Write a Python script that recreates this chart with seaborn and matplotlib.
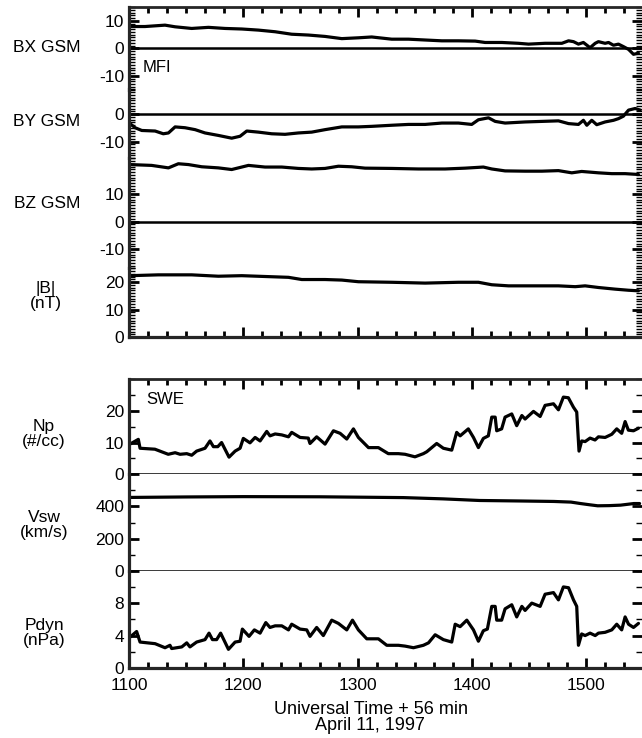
import numpy as np
import pandas as pd
import matplotlib
matplotlib.use("Agg")
import matplotlib.pyplot as plt
import seaborn as sns
from matplotlib.ticker import MultipleLocator, FixedLocator, FuncFormatter

# ---------------- data (time in minutes after 11:00 UT) ----------------
bx_t = [0.5, 8.4, 18.9, 24.2, 32.9, 41.7, 50.4, 59.2, 67.9, 76.7,
        85.4, 94.2, 102.9, 111.7, 120.4, 127.4, 137.9, 146.7, 155.4, 164.2,
        172.9, 181.7, 186.9, 195.7, 204.4, 209.7, 218.4, 227.2, 230.7, 233.3,
        235.9, 238.5, 242.0, 244.7, 246.4, 249.9, 251.7, 254.3, 256.9, 259.5,
        262.2, 264.8, 267.4]
bx_v = [7.9, 7.9, 8.4, 7.8, 7.2, 7.6, 7.2, 7.0, 6.6, 6.0,
        5.1, 4.8, 4.3, 3.5, 3.8, 4.1, 3.3, 3.3, 3.0, 2.7,
        2.7, 2.6, 2.1, 2.1, 1.8, 1.5, 1.8, 1.8, 2.7, 2.4,
        1.5, 2.1, 0.2, 1.8, 2.4, 1.8, 2.1, 1.1, 1.5, 0.6,
        -0.4, -2.2, -1.8]

by_t = [0.5, 3.2, 6.7, 13.7, 18.0, 20.7, 24.2, 29.4, 34.7, 39.9,
        46.9, 53.9, 58.3, 61.8, 67.9, 74.9, 81.9, 88.9, 95.9, 102.9,
        111.7, 120.4, 127.4, 137.9, 146.7, 155.4, 164.2, 172.9, 179.9, 183.4,
        188.7, 192.2, 197.4, 207.9, 216.7, 225.4, 230.7, 235.9, 238.5, 240.3,
        242.9, 245.5, 249.9, 254.3, 256.9, 259.5, 262.2, 265.7, 268.3]
by_v = [-3.4, -4.9, -5.9, -6.1, -7.1, -6.8, -4.6, -4.9, -5.6, -6.8,
        -7.7, -8.7, -8.0, -6.1, -6.5, -7.1, -7.3, -6.8, -6.5, -5.6,
        -4.6, -4.6, -4.4, -4.0, -3.7, -3.7, -3.2, -3.2, -3.7, -2.0,
        -1.3, -2.6, -3.2, -2.8, -2.6, -2.4, -3.4, -3.7, -2.2, -4.0,
        -2.2, -3.8, -2.8, -2.2, -1.6, -0.7, 1.5, 2.1, 1.5]

bz_t = [0.5, 11.9, 20.7, 25.9, 31.2, 38.2, 46.9, 53.9, 62.7, 71.4,
        80.2, 88.9, 95.9, 102.9, 109.9, 116.9, 123.9, 137.9, 151.9, 165.9,
        176.4, 186.0, 190.4, 197.4, 207.9, 216.7, 225.4, 232.4, 237.6, 242.9,
        246.4, 253.4, 260.4, 267.4]
bz_v = [20.7, 20.4, 19.5, 21.0, 20.7, 19.9, 19.5, 18.9, 20.4, 19.8,
        19.8, 19.3, 19.1, 19.3, 20.1, 19.9, 19.4, 19.3, 19.1, 19.1,
        19.4, 19.8, 19.1, 18.4, 18.3, 18.3, 18.5, 17.7, 18.2, 17.9,
        17.7, 17.4, 17.4, 17.1]

bt_t = [0.5, 15.4, 32.9, 46.9, 59.2, 71.4, 83.7, 90.7, 102.9, 111.7,
        120.4, 137.9, 155.4, 172.9, 183.4, 190.4, 199.2, 207.9, 216.7, 225.4,
        234.2, 239.4, 246.4, 255.2, 262.2, 267.4]
bt_v = [22.3, 22.6, 22.6, 22.1, 22.3, 22.0, 21.7, 20.9, 20.9, 20.7,
        20.1, 19.9, 19.6, 19.9, 19.9, 19.0, 18.6, 18.6, 18.6, 18.6,
        18.3, 18.6, 18.0, 17.4, 17.0, 16.8]

np_t = [0.5, 4.9, 5.8, 13.6, 20.6, 24.2, 26.8, 30.3, 32.9, 35.5,
        39.9, 42.5, 44.3, 46.6, 48.6, 52.5, 55.7, 58.3, 60.0, 63.5,
        66.2, 68.8, 72.3, 74.0, 76.7, 80.2, 83.7, 85.4, 89.8, 94.1,
        95.0, 98.5, 102.9, 107.3, 110.8, 114.3, 117.8, 120.4, 125.7, 130.9,
        136.1, 141.4, 144.9, 150.1, 154.5, 156.3, 161.5, 165.0, 169.4, 172.0,
        173.8, 178.1, 180.8, 183.4, 186.0, 188.6, 190.4, 192.2, 193.0, 195.6,
        197.4, 200.9, 203.5, 206.2, 207.9, 212.3, 215.8, 218.4, 222.8, 225.4,
        228.0, 230.6, 233.3, 235.0, 236.2, 237.6, 239.4, 242.0, 244.6, 246.4,
        249.9, 253.4, 256.0, 258.6, 260.4, 262.1, 264.8, 267.4]
np_v = [9.5, 11.0, 8.2, 7.9, 6.3, 6.8, 6.3, 6.5, 6.0, 7.3,
        8.2, 10.5, 8.7, 8.7, 10.0, 5.4, 7.3, 8.2, 11.3, 9.9,
        11.6, 10.5, 13.5, 12.1, 12.7, 12.4, 11.8, 13.2, 11.6, 11.4,
        9.7, 11.8, 9.5, 13.7, 12.9, 11.1, 14.3, 11.6, 8.4, 8.4,
        6.5, 6.5, 6.3, 5.5, 6.5, 7.1, 9.7, 8.2, 7.6, 13.2,
        12.1, 14.3, 11.6, 8.4, 11.3, 12.1, 18.0, 18.0, 13.7, 14.3,
        18.0, 19.0, 15.3, 18.5, 17.4, 19.8, 18.2, 21.7, 22.2, 20.3,
        24.3, 24.1, 21.1, 19.6, 7.3, 10.5, 10.3, 11.4, 10.8, 11.8,
        11.6, 12.6, 14.3, 12.9, 16.6, 13.9, 13.7, 14.5]

vsw_t = [0, 30, 60, 100, 144, 165, 184, 205, 223, 232, 237, 242, 246, 252, 258, 265, 268]
vsw_v = [456, 459, 461, 460, 455, 447, 437, 434, 431, 427, 418, 410, 404, 405, 408, 418, 418]

pd_t = [0.5, 4.0, 5.8, 13.7, 18.9, 21.5, 22.4, 27.7, 30.3, 32.0,
        35.5, 39.9, 42.0, 43.8, 46.0, 48.1, 52.2, 55.7, 58.3, 59.5,
        63.0, 65.8, 68.8, 71.8, 74.0, 76.7, 80.2, 83.7, 85.4, 89.8,
        93.3, 95.0, 98.5, 102.0, 106.4, 109.9, 114.3, 117.3, 120.4, 124.8,
        130.9, 135.3, 141.4, 144.9, 149.3, 154.5, 157.2, 160.7, 165.0, 169.4,
        171.2, 173.8, 177.3, 180.8, 183.4, 186.0, 188.1, 190.4, 192.2, 193.0,
        195.6, 197.4, 200.9, 203.5, 206.2, 207.9, 211.4, 215.8, 218.4, 222.8,
        225.4, 228.0, 230.7, 233.3, 235.0, 235.9, 237.6, 239.4, 242.0, 244.7,
        246.4, 249.9, 253.4, 256.0, 258.6, 260.4, 262.2, 264.8, 267.4]
pd_v = [3.8, 4.5, 3.2, 3.0, 2.5, 2.8, 2.4, 2.6, 3.1, 2.6,
        3.2, 3.5, 4.3, 3.5, 3.5, 4.3, 2.3, 3.2, 3.3, 4.8,
        3.9, 4.7, 4.3, 5.6, 5.0, 5.2, 5.2, 4.7, 5.4, 4.8,
        4.7, 3.9, 5.0, 4.0, 5.9, 5.5, 4.7, 5.9, 4.7, 3.6,
        3.6, 2.8, 2.8, 2.7, 2.5, 2.8, 3.1, 4.1, 3.5, 3.2,
        5.4, 5.1, 5.9, 4.7, 3.3, 4.6, 4.8, 7.6, 7.6, 5.9,
        5.9, 7.3, 7.8, 6.3, 7.6, 7.1, 8.0, 7.6, 9.1, 9.3,
        8.4, 10.0, 9.9, 8.4, 7.6, 2.8, 4.2, 4.0, 4.3, 4.0,
        4.3, 4.4, 4.7, 5.4, 4.7, 6.3, 5.4, 5.0, 5.5]

x_major = [0, 60, 120, 180, 240]
x_labels = ["1100", "1200", "1300", "1400", "1500"]

# ---------------- style ----------------
sns.set_theme(style="ticks")
plt.rcParams['font.family'] = ['Liberation Sans', 'DejaVu Sans']
plt.rcParams['font.size'] = 12.5

W, H = 642, 738
fig = plt.figure(figsize=(W / 100, H / 100), dpi=100)

LEFT, RIGHT = 129, 641.5


def add_ax(top_px, bot_px):
    return fig.add_axes([LEFT / W, 1 - bot_px / H, (RIGHT - LEFT) / W, (bot_px - top_px) / H])


# (key, t, v, ylim, major ticks, minor step, zero line, top px, bottom px)
panels = [
    ("BX", bx_t, bx_v, (-15, 15), [-10, 0, 10], 1, True, 7, 89.5),
    ("BY", by_t, by_v, (-16, 9), [-10, 0], 1, True, 89.5, 158.25),
    ("BZ", bz_t, bz_v, (-17, 23), [-10, 0, 10], 1, True, 158.25, 268.25),
    ("BT", bt_t, bt_v, (0, 25), [0, 10, 20], 1, False, 268.25, 337),
    ("NP", np_t, np_v, (0, 30), [0, 10, 20], 5, True, 379, 474.3),
    ("VS", vsw_t, vsw_v, (0, 600), [0, 200, 400], 100, True, 474.3, 570.7),
    ("PD", pd_t, pd_v, (0, 12), [0, 4, 8], 2, False, 570.7, 668),
]
first_in_group = {"BX", "NP"}
last_in_group = {"BT", "PD"}

axes = {}
for key, t, v, ylim, majors, mstep, zero, top, bot in panels:
    ax = add_ax(top, bot)
    axes[key] = ax
    df = pd.DataFrame({"t": t, "v": v})
    sns.lineplot(data=df, x="t", y="v", ax=ax, color="black", linewidth=2.3,
                 estimator=None, sort=False)
    if zero:
        ax.axhline(0, color="black", linewidth=1.8)
    ax.set_xlim(0, 269)
    ax.set_ylim(*ylim)
    ax.set_xlabel("")
    ax.set_ylabel("")
    ax.yaxis.set_major_locator(FixedLocator(majors))
    ax.yaxis.set_minor_locator(MultipleLocator(mstep))
    ax.yaxis.set_major_formatter(FuncFormatter(lambda y, p: f"{int(round(y))}"))
    ax.xaxis.set_major_locator(FixedLocator(x_major))
    ax.xaxis.set_minor_locator(MultipleLocator(10))
    ax.xaxis.set_major_formatter(FuncFormatter(
        lambda x, p: x_labels[x_major.index(int(round(x)))] if int(round(x)) in x_major else ""))

    ax.spines["right"].set_visible(False)
    ax.spines["left"].set_linewidth(2.3)
    ax.spines["top"].set_visible(key in first_in_group)
    ax.spines["bottom"].set_visible(key in last_in_group)
    ax.spines["top"].set_linewidth(2.0)
    ax.spines["bottom"].set_linewidth(2.3)
    ax.patch.set_alpha(0)

    ax.tick_params(axis="y", which="both", direction="in", left=True, right=True,
                   labelsize=12.5, pad=3.5, colors="black")
    ax.tick_params(axis="y", which="major", length=7, width=2)
    ax.tick_params(axis="y", which="minor", length=4, width=1.0)
    ax.tick_params(axis="x", which="both", direction="in",
                   top=key in first_in_group, bottom=key in last_in_group,
                   labelbottom=(key == "PD"), labeltop=False,
                   labelsize=12.5, pad=7, colors="black")
    ax.tick_params(axis="x", which="major", length=7.5, width=2)
    ax.tick_params(axis="x", which="minor", length=4, width=2)


def ftext(xp, yp, s, **kw):
    fig.text(xp / W, 1 - yp / H, s, **kw)


lab = dict(ha="center", va="center", fontsize=12.5, color="black", linespacing=0.95)
ftext(47, 48, "BX GSM", **lab)
ftext(47, 121, "BY GSM", **lab)
ftext(47, 204, "BZ GSM", **lab)
ftext(46, 296, "|B|\n(nT)", **lab)
ftext(44, 434, "Np\n(#/cc)", **lab)
ftext(44, 525, "Vsw\n(km/s)", **lab)
ftext(44, 633, "Pdyn\n(nPa)", **lab)

ftext(143, 68, "MFI", ha="left", va="center", fontsize=12, color="black")
ftext(146, 400, "SWE", ha="left", va="center", fontsize=12, color="black")

ftext(371, 709, "Universal Time + 56 min", ha="center", va="center", fontsize=13, color="black")
ftext(370, 725, "April 11, 1997", ha="center", va="center", fontsize=13, color="black")

fig.savefig("out.png", dpi=100)
